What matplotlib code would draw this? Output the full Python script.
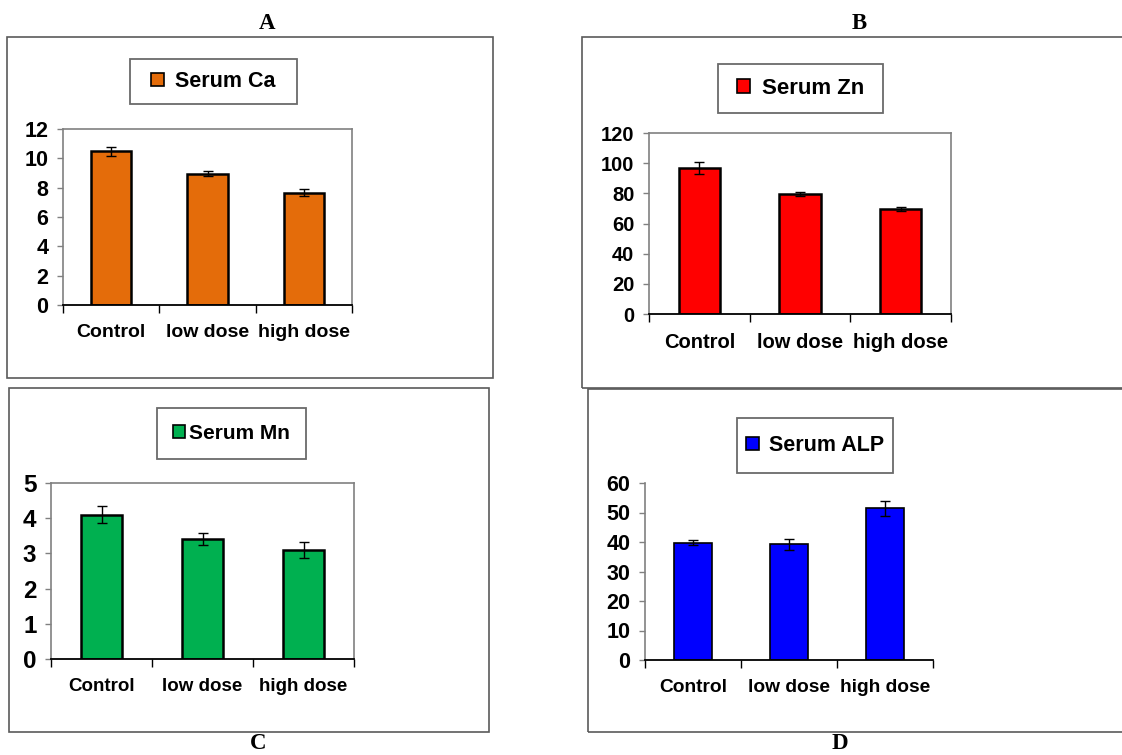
import matplotlib
matplotlib.use("Agg")
import matplotlib.pyplot as plt
from matplotlib.patches import Rectangle, Patch
import numpy as np

plt.rcParams['font.family'] = ['Liberation Sans', 'DejaVu Sans']
plt.rcParams['font.weight'] = 'bold'

categories = ["Control", "low dose", "high dose"]

ca_values = [10.48, 8.95, 7.67]
ca_err = [0.32, 0.18, 0.22]

zn_values = [96.8, 79.6, 69.6]
zn_err = [4.3, 1.5, 1.5]

mn_values = [4.1, 3.42, 3.1]
mn_err = [0.25, 0.17, 0.22]

alp_values = [39.8, 39.2, 51.4]
alp_err = [0.8, 1.9, 2.6]

W, H = 1122, 755
fig = plt.figure(figsize=(W / 100, H / 100), dpi=100)


def fbox(x0, y0, x1, y1):
    return [x0 / W, 1 - y1 / H, (x1 - x0) / W, (y1 - y0) / H]


panels = [
    dict(letter="A", letter_xy=(267, 29), letter_va="baseline", outer=(7, 37, 493, 378),
         leg=(130, 59, 297, 104), ax=(63, 129, 352, 305), vals=ca_values, err=ca_err,
         color="#E46C0A", label="Serum Ca", ymax=12, ystep=2, width=0.42, frame=True,
         edge_lw=1.8, leg_fs=15.5, tick_fs=15.5, xl_fs=14, htp=0.5),
    dict(letter="B", letter_xy=(859, 29), letter_va="baseline", outer=(582, 37, 1130, 388),
         leg=(718, 64, 883, 113), ax=(649, 133, 951, 314), vals=zn_values, err=zn_err,
         color="#FF0000", label="Serum Zn", ymax=120, ystep=20, width=0.41, frame=True,
         edge_lw=1.8, leg_fs=16, tick_fs=14.5, xl_fs=14.5, htp=0.5),
    dict(letter="C", letter_xy=(258, 754), letter_va="bottom", outer=(9, 388, 489, 732),
         leg=(157, 408, 306, 459), ax=(51, 483, 354, 659), vals=mn_values, err=mn_err,
         color="#00B050", label="Serum Mn", ymax=5, ystep=1, width=0.41, frame=True,
         edge_lw=1.8, leg_fs=15, tick_fs=17.5, xl_fs=13.5, htp=0.2),
    dict(letter="D", letter_xy=(840, 754), letter_va="bottom", outer=(588, 389, 1130, 732),
         leg=(737, 418, 893, 473), ax=(645, 483, 933, 660), vals=alp_values, err=alp_err,
         color="#0000FF", label="Serum ALP", ymax=60, ystep=10, width=0.40, frame=False,
         edge_lw=1.2, leg_fs=15.5, tick_fs=15.5, xl_fs=13.8, htp=0.5),
]

grey = "#808080"

for p in panels:
    # outer panel box
    ox0, oy0, ox1, oy1 = p["outer"]
    b = fbox(ox0, oy0, ox1, oy1)
    fig.patches.append(Rectangle((b[0], b[1]), b[2], b[3], transform=fig.transFigure,
                                 fill=False, edgecolor="#5a5a5a", linewidth=1.2, zorder=0))
    # panel letter
    lx, ly = p["letter_xy"]
    fig.text(lx / W, 1 - ly / H, p["letter"], ha="center", va=p["letter_va"],
             fontsize=16.5, fontweight="bold", family=["Liberation Serif", "DejaVu Serif"])

    ax = fig.add_axes(fbox(*p["ax"]))
    x = np.arange(len(categories))
    ax.bar(x, p["vals"], width=p["width"], color=p["color"], edgecolor="black",
           linewidth=p["edge_lw"], zorder=2)
    ax.errorbar(x, p["vals"], yerr=p["err"], fmt="none", ecolor="black",
                elinewidth=1.0, capsize=3.6, capthick=1.0, zorder=3)
    ax.set_xlim(-0.5, len(categories) - 0.5)
    ax.set_ylim(0, p["ymax"])
    ax.set_yticks(np.arange(0, p["ymax"] + p["ystep"] / 2, p["ystep"]))
    ax.set_xticks(x)
    ax.set_xticklabels(categories, fontsize=p["xl_fs"], fontweight="bold")
    ax.set_xticks(np.arange(-0.5, len(categories), 1.0), minor=True)
    ax.tick_params(axis="x", which="major", length=0, pad=14)
    ax.tick_params(axis="x", which="minor", length=6, width=1.0, direction="out", color="black")
    ax.tick_params(axis="y", length=4.5, width=1.0, color=grey, labelsize=p["tick_fs"], pad=6)
    for t in ax.get_yticklabels():
        t.set_fontweight("bold")
    ax.spines["left"].set_color(grey)
    ax.spines["left"].set_linewidth(1.2)
    ax.spines["bottom"].set_color("black")
    ax.spines["bottom"].set_linewidth(1.3)
    if p["frame"]:
        ax.spines["top"].set_color(grey)
        ax.spines["right"].set_color(grey)
        ax.spines["top"].set_linewidth(1.2)
        ax.spines["right"].set_linewidth(1.2)
    else:
        ax.spines["top"].set_visible(False)
        ax.spines["right"].set_visible(False)

    # legend box
    lb = fbox(*p["leg"])
    fig.patches.append(Rectangle((lb[0], lb[1]), lb[2], lb[3], transform=fig.transFigure,
                                 fill=False, edgecolor="#6a6a6a", linewidth=1.3, zorder=1))
    handle = Patch(facecolor=p["color"], edgecolor="black", linewidth=1.2, label=p["label"])
    ax.legend(handles=[handle], loc="center",
              bbox_to_anchor=(lb[0] + lb[2] / 2, lb[1] + lb[3] / 2),
              bbox_transform=fig.transFigure, frameon=False,
              prop=dict(size=p["leg_fs"], weight="bold"),
              handlelength=0.6, handleheight=0.6, handletextpad=p["htp"],
              borderpad=0.2, borderaxespad=0)

fig.savefig("out.png", dpi=100)
